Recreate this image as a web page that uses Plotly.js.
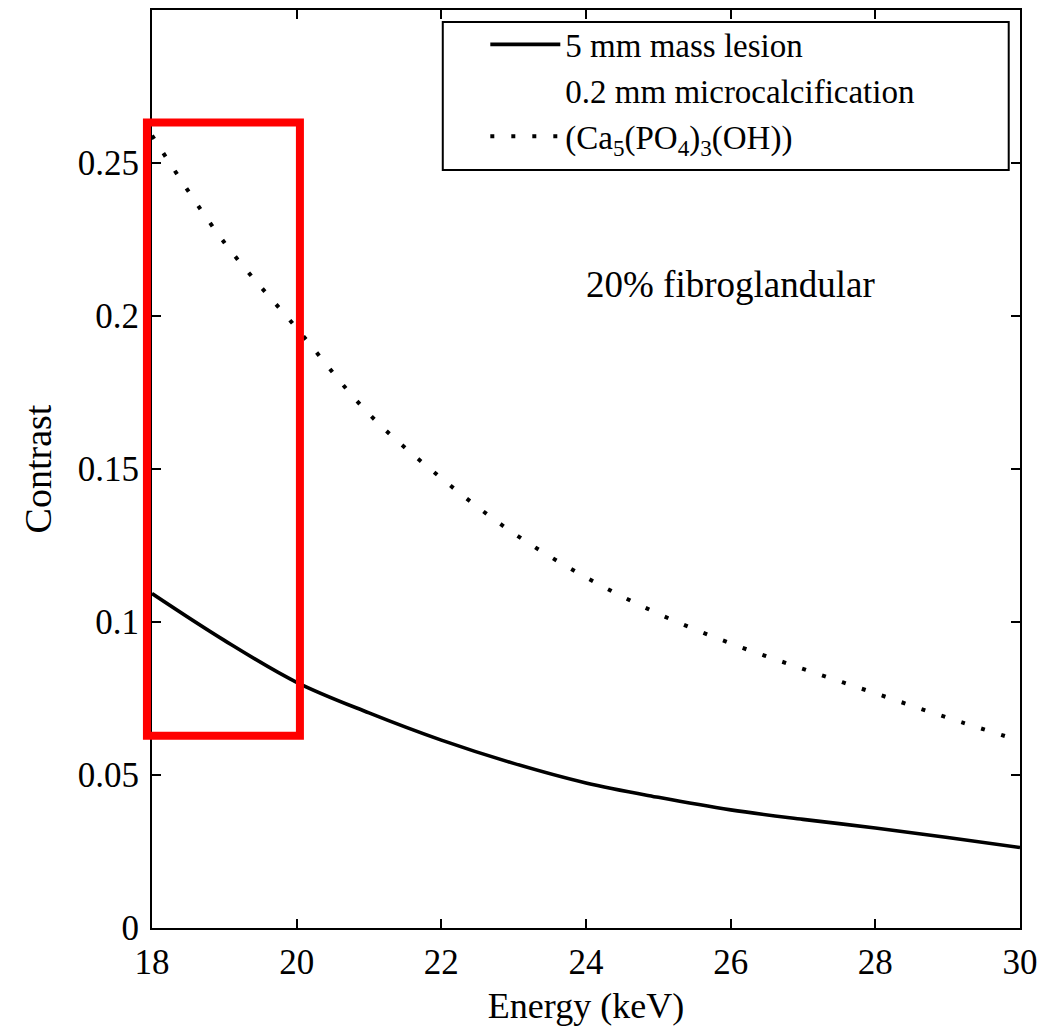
<!DOCTYPE html>
<html>
<head>
<meta charset="utf-8">
<script src="https://cdn.plot.ly/plotly-3.0.1.min.js"></script>
<style>html,body{margin:0;padding:0;background:#fff;}#chart{width:1051px;height:1035px;}</style>
</head>
<body>
<div id="chart"></div>
<script>
// Data
const energy = [18, 19, 20, 21, 22, 23, 24, 25, 26, 27, 28, 29, 30];
const massLesion = [0.1093, 0.0940, 0.0803, 0.0703, 0.0614, 0.0538, 0.0474, 0.0427, 0.0386, 0.0355, 0.0327, 0.0296, 0.0263];
const microcalc = [0.259, 0.224, 0.196, 0.168, 0.147, 0.129, 0.1146, 0.1027, 0.0930, 0.0847, 0.0767, 0.0687, 0.0612];
const xTicks = [18, 20, 22, 24, 26, 28, 30];
const yTicks = [0, 0.05, 0.1, 0.15, 0.2, 0.25];
const yTickText = ['0', '0.05', '0.1', '0.15', '0.2', '0.25'];
const seriesNames = ['5 mm mass lesion', '0.2 mm microcalcification', '(Ca<sub>5</sub>(PO<sub>4</sub>)<sub>3</sub>(OH))'];
const noteText = '20% fibroglandular';
const highlightX = [17.93, 20.045];
const highlightY = [0.0628, 0.2632];

const xRange = [18, 30];
const yRange = [0, 0.3];
const FONT = '"Liberation Serif", "DejaVu Serif", serif';

const px = v => (v - xRange[0]) / (xRange[1] - xRange[0]);
const py = v => (v - yRange[0]) / (yRange[1] - yRange[0]);

const traces = [
  {x: energy, y: massLesion, name: seriesNames[0], mode: 'lines',
   line: {color: '#000', width: 3.6, shape: 'spline'}},
  {x: [null], y: [null], name: seriesNames[1], mode: 'lines',
   line: {color: 'rgba(0,0,0,0)', width: 0}, hoverinfo: 'skip'},
  {x: energy, y: microcalc, name: seriesNames[2], mode: 'lines',
   line: {color: '#000', width: 4, dash: '4px,17px', shape: 'spline'}}
];

const axisCommon = {
  showline: true, linecolor: '#000', linewidth: 2, mirror: 'ticks',
  ticks: 'inside', ticklen: 9, tickwidth: 2, tickcolor: '#000',
  showgrid: false, zeroline: false, automargin: false,
  tickfont: {family: FONT, size: 35, color: '#000'}
};

const layout = {
  width: 1051, height: 1035,
  margin: {l: 152, r: 31, t: 10, b: 107},
  paper_bgcolor: '#fff', plot_bgcolor: '#fff',
  font: {family: FONT, color: '#000'},
  showlegend: true,
  legend: {
    x: 0.384, y: 0.993, xanchor: 'left', yanchor: 'top',
    bgcolor: 'rgba(0,0,0,0)', borderwidth: 0,
    font: {family: FONT, size: 33, color: '#000'},
    traceorder: 'normal', itemwidth: 70, tracegroupgap: 0
  },
  xaxis: Object.assign({}, axisCommon, {
    range: xRange, tickvals: xTicks, ticktext: xTicks.map(String),
    ticklabelstandoff: 2,
    title: {text: 'Energy (keV)', font: {family: FONT, size: 36, color: '#000'}, standoff: 12}
  }),
  yaxis: Object.assign({}, axisCommon, {
    range: yRange, tickvals: yTicks, ticktext: yTickText,
    ticklabelstandoff: 4,
    title: {text: 'Contrast', font: {family: FONT, size: 38, color: '#000'}, standoff: 14}
  }),
  shapes: [
    {type: 'rect', xref: 'paper', yref: 'paper', layer: 'above',
     x0: 0.335, x1: 0.987, y0: 0.8257, y1: 0.9869,
     line: {color: '#000', width: 2}, fillcolor: 'rgba(0,0,0,0)'},
    {type: 'rect', xref: 'paper', yref: 'paper', layer: 'above',
     x0: px(highlightX[0]), x1: px(highlightX[1]), y0: py(highlightY[0]), y1: py(highlightY[1]),
     line: {color: '#ff0000', width: 8}, fillcolor: 'rgba(0,0,0,0)'}
  ],
  annotations: [
    {text: noteText, xref: 'paper', yref: 'paper', x: 0.667, y: 0.701,
     xanchor: 'center', yanchor: 'middle', showarrow: false,
     font: {family: FONT, size: 37, color: '#000'}}
  ]
};

Plotly.newPlot('chart', traces, layout, {displayModeBar: false, staticPlot: true});
</script>
</body>
</html>
